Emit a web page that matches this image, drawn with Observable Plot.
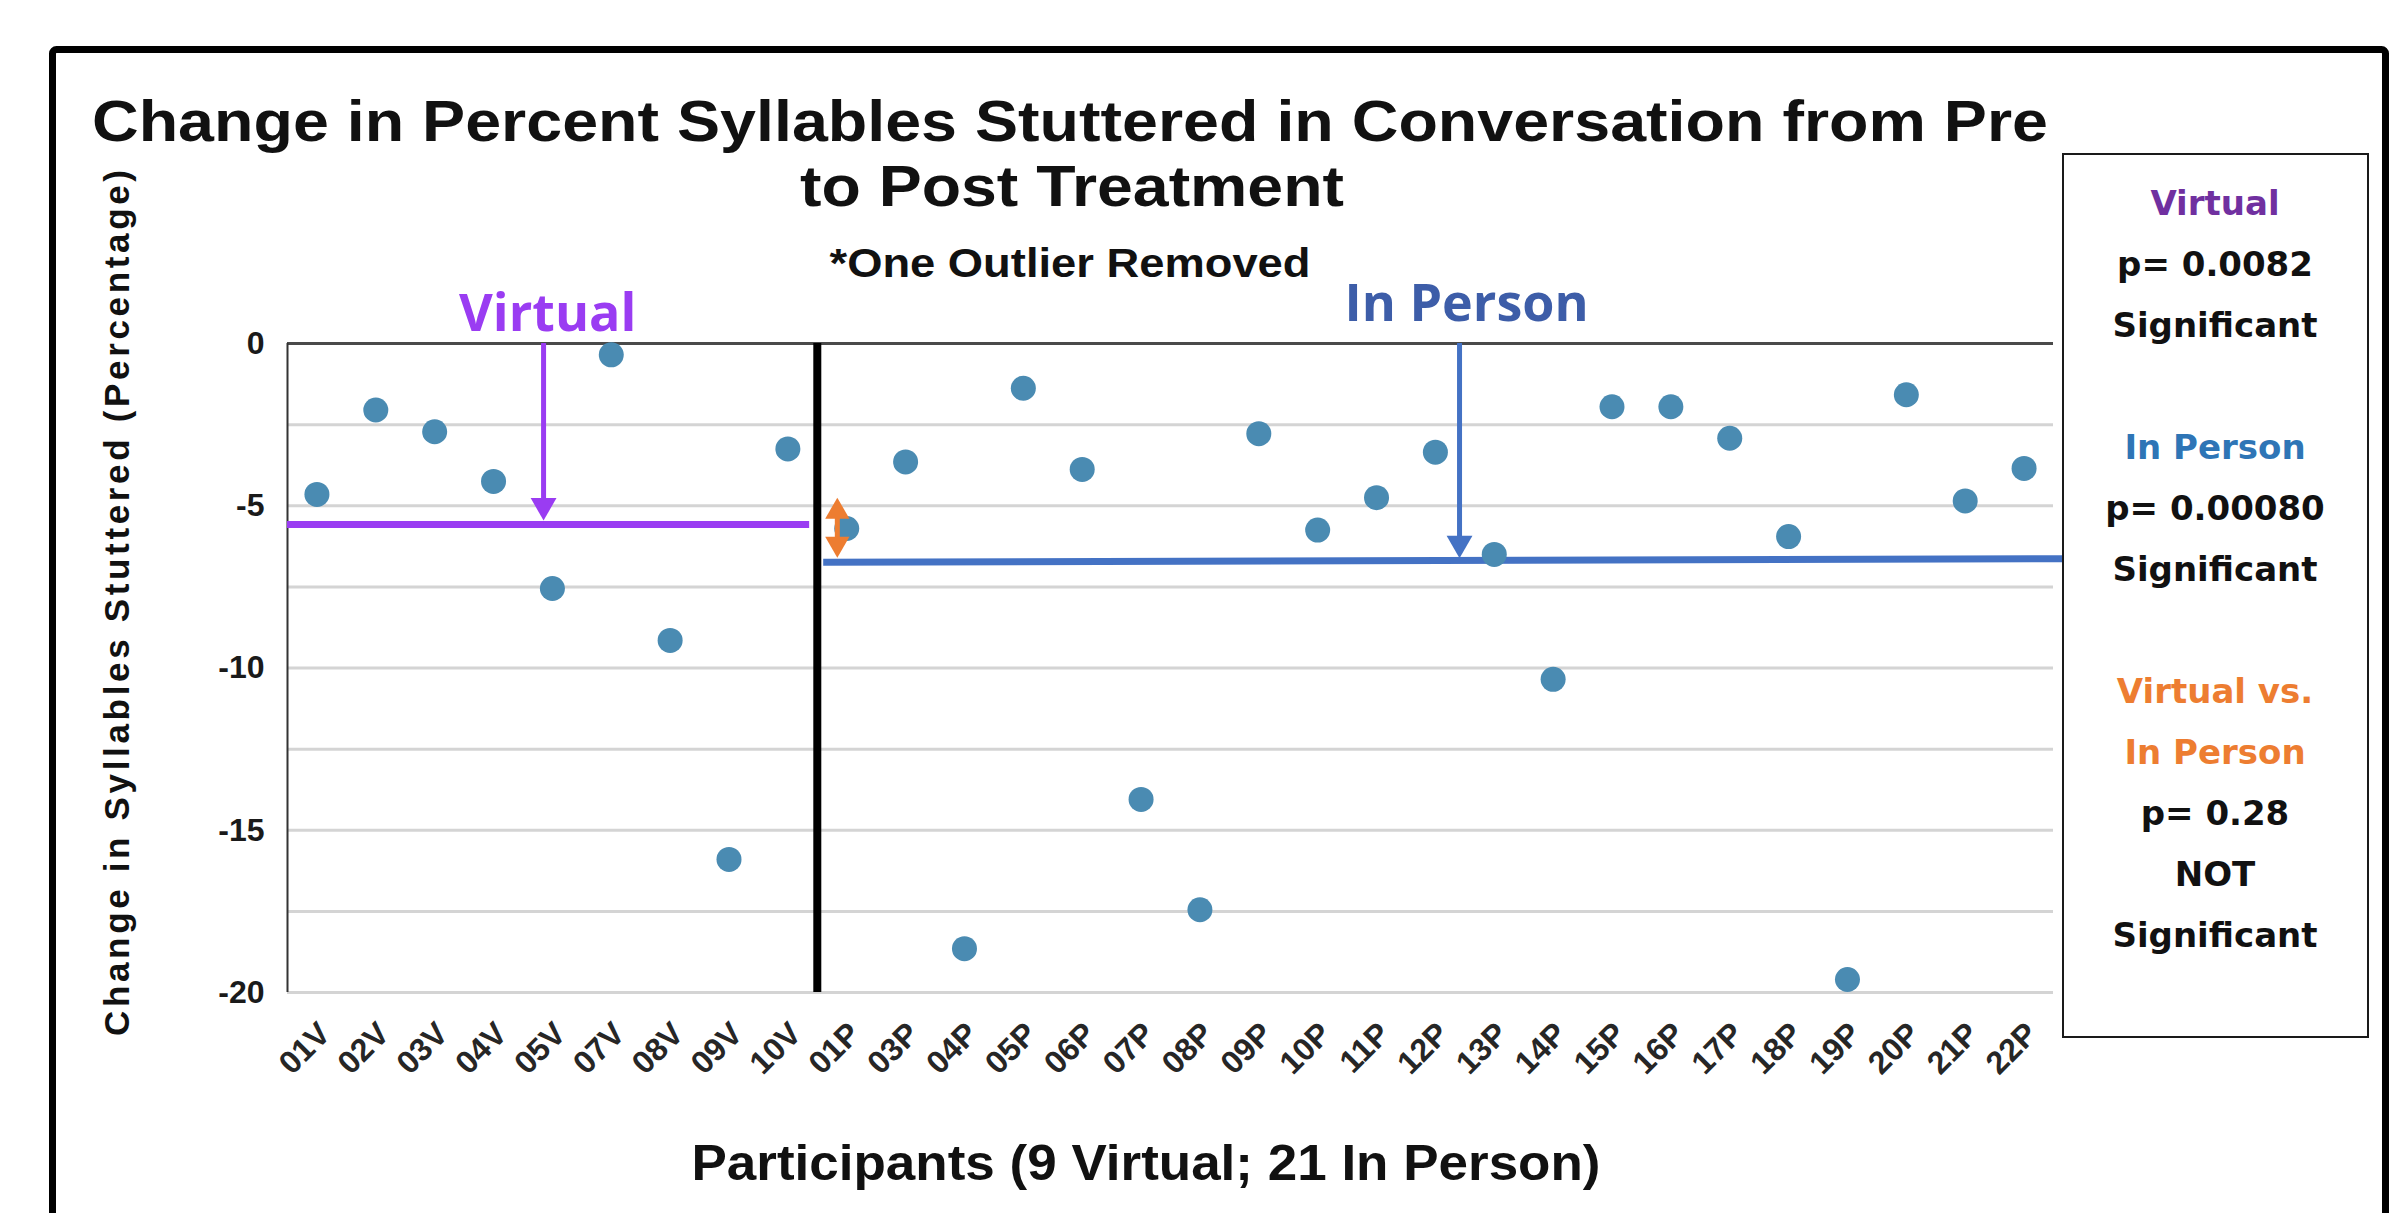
<!DOCTYPE html>
<html><head><meta charset="utf-8">
<script src="https://cdn.jsdelivr.net/npm/d3@7"></script>
<script src="https://cdn.jsdelivr.net/npm/@observablehq/plot@0.6"></script>
<style>
html,body{margin:0;padding:0;background:#fff;overflow:hidden;}
#wrap{position:relative;width:2398px;height:1213px;overflow:hidden;background:#fff;}
#chart{position:absolute;left:0;top:0;}
#overlay{position:absolute;left:0;top:0;}
</style></head><body>
<div id="wrap"><div id="chart"></div><svg id="overlay" width="2398" height="1213"></svg></div>
<script>
// ---- data ----
const participants = ["01V","02V","03V","04V","05V","07V","08V","09V","10V",
  "01P","03P","04P","05P","06P","07P","08P","09P","10P","11P","12P","13P","14P","15P","16P","17P","18P","19P","20P","21P","22P"];
const changes = [-4.65,-2.05,-2.72,-4.25,-7.55,-0.35,-9.15,-15.9,-3.25,
  -5.7,-3.65,-18.65,-1.38,-3.88,-14.05,-17.45,-2.78,-5.75,-4.75,-3.35,-6.5,-10.35,-1.95,-1.95,-2.92,-5.95,-19.6,-1.58,-4.85,-3.85];
const yTicks = [0,-5,-10,-15,-20];
const gridValues = [-2.5,-5,-7.5,-10,-12.5,-15,-17.5,-20];
const groupLabels = ["Virtual","In Person"];
const meanVirtual = -5.58;
const meanInPerson = [-6.74,-6.63];   // as drawn (left end, right end)
const diffArrow = [-4.75,-6.6];       // orange double arrow span
const titleLines = ["Change in Percent Syllables Stuttered in Conversation from Pre","to Post Treatment"];
const subtitle = "*One Outlier Removed";
const xLabel = "Participants (9 Virtual; 21 In Person)";
const yLabel = "Change in Syllables Stuttered (Percentage)";
const legendLines = [
  ["Virtual","#7030A0"],["p= 0.0082","#111"],["Significant","#111"],["",""],
  ["In Person","#2E75B6"],["p= 0.00080","#111"],["Significant","#111"],["",""],
  ["Virtual vs.","#ED7D31"],["In Person","#ED7D31"],["p= 0.28","#111"],["NOT","#111"],["Significant","#111"]
];

// ---- styles ----
const PURPLE = "#9A3CF2", BLUE = "#4472C4", ORANGE = "#ED7D31", DOT = "#4A8BB2";
const ARIAL = '"Liberation Sans", Arial, sans-serif';
const OPEN = '"Open Sans", sans-serif';

const data = participants.map((p,i)=>({i, p, v: changes[i]}));

const chart = Plot.plot({
  width: 2398, height: 1213,
  marginTop: 343, marginBottom: 221, marginLeft: 287, marginRight: 345,
  style: {background: "transparent", fontFamily: ARIAL, fontWeight: "bold", color: "#1a1a1a", overflow: "visible"},
  x: {domain: [-0.5, 29.5]},
  y: {domain: [-20, 0]},
  marks: [
    Plot.ruleY(gridValues, {stroke: "#d4d4d4", strokeWidth: 3}),
    Plot.ruleY([0], {stroke: "#4a4a4a", strokeWidth: 3}),
    Plot.ruleX([-0.5], {y1: -20, y2: 0, stroke: "#333", strokeWidth: 2}),
    Plot.axisY({ticks: yTicks, tickFormat: d => String(d), tickSize: 0, tickPadding: 23, fontSize: 32, fontWeight: "bold", label: null}),
    Plot.axisX({ticks: d3.range(participants.length), tickFormat: i => participants[i], tickRotate: -45, tickSize: 0, tickPadding: 36, dx: 8, fontSize: 32, fontWeight: "bold", fill: "#262626", label: null}),
    // mean lines
    Plot.ruleY([{y: meanVirtual, x1: -0.5, x2: 8.37}], {y: "y", x1: "x1", x2: "x2", stroke: PURPLE, strokeWidth: 7}),
    Plot.link([{x1: 8.6, x2: 29.68, y1: meanInPerson[0], y2: meanInPerson[1]}], {x1: "x1", x2: "x2", y1: "y1", y2: "y2", stroke: BLUE, strokeWidth: 7}),
    // arrows to means
    Plot.ruleX([{x: 3.85, y1: 0, y2: meanVirtual}], {x: "x", y1: "y1", y2: "y2", stroke: PURPLE, strokeWidth: 5, insetBottom: 14}),
    Plot.dot([{x: 3.85, y: meanVirtual}], {x: "x", y: "y", symbol: "triangle", rotate: 180, r: 9.6, fill: PURPLE, dy: -19}),
    Plot.ruleX([{x: 19.41, y1: 0, y2: meanInPerson[0]}], {x: "x", y1: "y1", y2: "y2", stroke: BLUE, strokeWidth: 5, insetBottom: 14}),
    Plot.dot([{x: 19.41, y: meanInPerson[0]}], {x: "x", y: "y", symbol: "triangle", rotate: 180, r: 9.6, fill: BLUE, dy: -19}),
    // group labels
    Plot.text([{x: 3.92, t: groupLabels[0]}], {x: "x", y: () => 0, text: "t", dy: -13, lineAnchor: "bottom", fontSize: 52, fontFamily: OPEN, fontWeight: "bold", fill: PURPLE}),
    Plot.text([{x: 19.53, t: groupLabels[1]}], {x: "x", y: () => 0, text: "t", dy: -23, lineAnchor: "bottom", fontSize: 52, fontFamily: OPEN, fontWeight: "bold", fill: "#3D5DA8"}),
    // participant points
    Plot.dot(data, {x: "i", y: "v", r: 12.5, fill: DOT}),
    // divider
    Plot.ruleX([8.5], {y1: -20, y2: 0, stroke: "#000", strokeWidth: 8}),
    // orange double arrow
    Plot.ruleX([{x: 8.84, y1: diffArrow[0], y2: diffArrow[1]}], {x: "x", y1: "y1", y2: "y2", stroke: ORANGE, strokeWidth: 5, insetTop: 10, insetBottom: 10}),
    Plot.dot([{x: 8.84, y: diffArrow[0]}], {x: "x", y: "y", symbol: "triangle", r: 9, fill: ORANGE, dy: 14}),
    Plot.dot([{x: 8.84, y: diffArrow[1]}], {x: "x", y: "y", symbol: "triangle", rotate: 180, r: 9, fill: ORANGE, dy: -14})
  ]
});
document.getElementById("chart").appendChild(chart);

// ---- overlay: frame, titles, axis titles, stats box ----
const ov = d3.select("#overlay");
ov.append("rect").attr("x", 52.5).attr("y", 49.5).attr("width", 2333).attr("height", 1210)
  .attr("rx", 4).attr("fill", "none").attr("stroke", "#000").attr("stroke-width", 7);
const T = (x, y, s, o) => {
  const t = ov.append("text").attr("x", x).attr("y", y).attr("text-anchor", "middle")
    .attr("font-family", o.family || ARIAL).attr("font-weight", "bold").attr("font-size", o.size)
    .attr("fill", o.fill || "#111").text(s);
  if (o.len) t.attr("textLength", o.len).attr("lengthAdjust", o.adj || "spacingAndGlyphs");
  if (o.transform) t.attr("transform", o.transform).attr("x", 0).attr("y", 0);
  return t;
};
T(1070, 141, titleLines[0], {size: 57, len: 1956});
T(1072, 206, titleLines[1], {size: 57, len: 544});
T(1070, 277, subtitle, {size: 41, len: 481});
T(1146, 1180, xLabel, {size: 50, len: 909});
T(0, 0, yLabel, {size: 35, len: 866, adj: "spacing", transform: "translate(129,603) rotate(-90)"});
// stats box
ov.append("rect").attr("x", 2063).attr("y", 154).attr("width", 305).attr("height", 883)
  .attr("fill", "#fff").attr("stroke", "#1a1a1a").attr("stroke-width", 2);
legendLines.forEach((d, k) => {
  if (d[0]) T(2215, 215 + k * 61, d[0], {size: 34, family: '"DejaVu Sans", sans-serif', fill: d[1]});
});
</script>
</body></html>
